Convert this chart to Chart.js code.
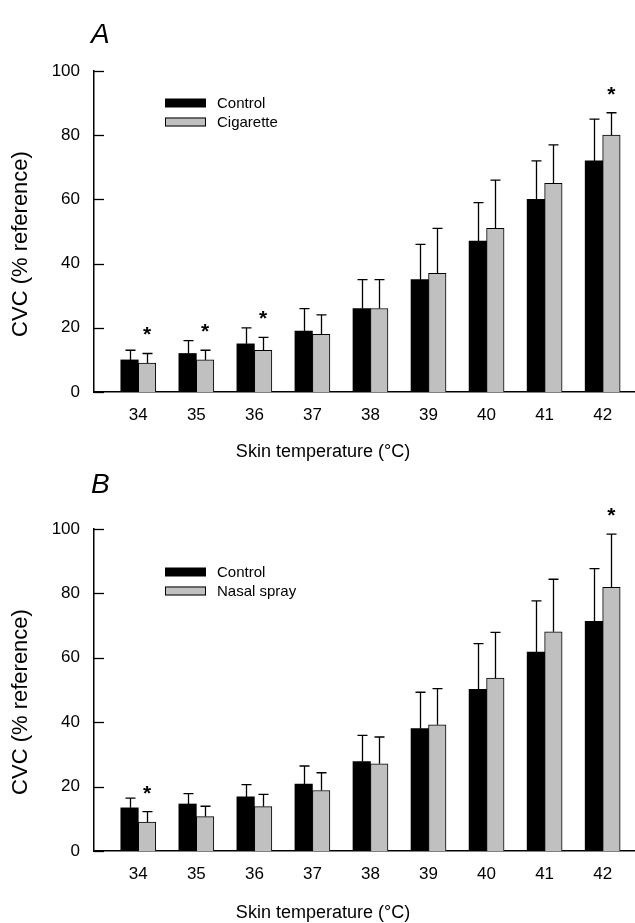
<!DOCTYPE html>
<html>
<head>
<meta charset="utf-8">
<script src="https://cdn.jsdelivr.net/npm/chart.js@4.4.0/dist/chart.umd.min.js"></script>
<style>
  html, body { margin: 0; padding: 0; background: #fff; }
  #wrap { position: relative; width: 635px; height: 923px; }
  canvas { position: absolute; left: 0; }
  #chartA { top: 0; }
  #chartB { top: 464px; }
</style>
</head>
<body>
<div id="wrap">
  <canvas id="chartA" width="635" height="464"></canvas>
  <canvas id="chartB" width="635" height="459"></canvas>
</div>
<script>
/* CVC vs skin temperature — two panels (A: cigarette, B: nasal spray) */

const temps = [34, 35, 36, 37, 38, 39, 40, 41, 42];
const yTicks = [0, 20, 40, 60, 80, 100];

// panel A
const controlA = [10, 12, 15, 19, 26, 35, 47, 60, 72];
const controlA_sd = [3, 4, 5, 7, 9, 11, 12, 12, 13];
const cigarette = [9, 10, 13, 18, 26, 37, 51, 65, 80];
const cigarette_sd = [3, 3, 4, 6, 9, 14, 15, 12, 7];
const sigA = [34, 35, 36, 42];

// panel B
const controlB = [13.4, 14.6, 16.8, 20.8, 27.8, 38.0, 50.2, 61.8, 71.3];
const controlB_sd = [3.0, 3.2, 3.8, 5.6, 8.1, 11.3, 14.2, 15.9, 16.4];
const nasalSpray = [9.0, 10.7, 13.8, 18.8, 27.1, 39.2, 53.7, 68.1, 81.9];
const nasalSpray_sd = [3.2, 3.2, 3.8, 5.5, 8.3, 11.2, 14.2, 16.3, 16.5];
const sigB = [34, 42];

const FONT = "'Liberation Sans', Arial, sans-serif";
Chart.defaults.font.family = FONT;
Chart.defaults.color = '#000';

// error bars, asterisks, legend, panel letter, axis titles, inward ticks
const figExtras = {
  id: 'figExtras',
  afterDatasetsDraw(chart, args, opts) {
    const ctx = chart.ctx;
    const yS = chart.scales.y;
    const area = chart.chartArea;
    ctx.save();
    ctx.strokeStyle = '#000';
    ctx.fillStyle = '#000';

    // inward y ticks
    ctx.lineWidth = 1.3;
    yTicks.forEach(v => {
      const py = Math.round(yS.getPixelForValue(v)) + 0.5;
      ctx.beginPath();
      ctx.moveTo(area.left, py);
      ctx.lineTo(area.left + 10, py);
      ctx.stroke();
    });

    // error bars (upper only) + significance marks
    chart.data.datasets.forEach((ds, i) => {
      const meta = chart.getDatasetMeta(i);
      meta.data.forEach((bar, j) => {
        const top = yS.getPixelForValue(ds.data[j].y + ds.sd[j]);
        const x = Math.round(bar.x) + 0.5;
        ctx.lineWidth = 1.3;
        ctx.beginPath();
        ctx.moveTo(x, bar.y);
        ctx.lineTo(x, top);
        ctx.moveTo(x - 5, top);
        ctx.lineTo(x + 5, top);
        ctx.stroke();
        if (ds.sig && ds.sig.includes(ds.data[j].x)) {
          ctx.font = 'bold 21px ' + FONT;
          ctx.textAlign = 'center';
          ctx.textBaseline = 'alphabetic';
          ctx.fillText('*', bar.x, top - 12);
        }
      });
    });

    // legend
    ctx.font = '15px ' + FONT;
    ctx.textAlign = 'left';
    ctx.textBaseline = 'middle';
    chart.data.datasets.forEach((ds, i) => {
      const cy = opts.legendY + i * 19;
      ctx.fillStyle = ds.backgroundColor;
      ctx.fillRect(opts.legendX, cy - 4.5, 41, 9);
      if (ds.borderWidth) {
        ctx.lineWidth = 1;
        ctx.strokeRect(opts.legendX + 0.5, cy - 4, 40, 8);
      }
      ctx.fillStyle = '#000';
      ctx.fillText(ds.label, opts.legendX + 52, cy + 1);
    });

    // panel letter
    ctx.font = 'italic 28px ' + FONT;
    ctx.textBaseline = 'alphabetic';
    ctx.fillText(opts.letter, 91, opts.letterY);

    // x title
    ctx.font = '18px ' + FONT;
    ctx.textAlign = 'center';
    ctx.fillText('Skin temperature (°C)', 323, opts.xTitleY);

    // y title
    ctx.translate(21, opts.yTitleY);
    ctx.rotate(-Math.PI / 2);
    ctx.font = '22px ' + FONT;
    ctx.textBaseline = 'middle';
    ctx.fillText('CVC (% reference)', 0, 0);
    ctx.restore();
  }
};

function makePanel(id, series, extras, topPad) {
  const datasets = series.map(s => ({
    label: s.label,
    data: temps.map((t, i) => ({ x: t, y: s.values[i] })),
    sd: s.sd,
    sig: s.sig,
    backgroundColor: s.color,
    borderColor: '#000',
    borderWidth: s.border,
    borderSkipped: 'bottom',
    barThickness: 17.5
  }));
  return new Chart(document.getElementById(id), {
    type: 'bar',
    data: { datasets },
    options: {
      responsive: false,
      animation: false,
      devicePixelRatio: 1,
      layout: { padding: { top: topPad, left: 0, right: 0, bottom: 0 } },
      plugins: { legend: { display: false }, tooltip: { enabled: false }, figExtras: extras },
      scales: {
        x: {
          type: 'linear', min: 33.237, max: 42.557, offset: false,
          afterBuildTicks: s => { s.ticks = temps.map(v => ({ value: v })); },
          afterFit: s => { s.height = 72; },
          grid: { display: false, drawTicks: false, offset: false },
          border: { display: true, color: '#000', width: 1.5 },
          ticks: { font: { size: 17 }, padding: 13, color: '#000', maxRotation: 0, autoSkip: false }
        },
        y: {
          min: 0, max: 100,
          afterBuildTicks: s => { s.ticks = yTicks.map(v => ({ value: v })); },
          afterFit: s => { s.width = 94; },
          grid: { display: false, drawTicks: false },
          border: { display: true, color: '#000', width: 1.5 },
          ticks: { font: { size: 17 }, padding: 14, color: '#000' }
        }
      }
    },
    plugins: [figExtras]
  });
}

makePanel('chartA', [
  { label: 'Control', values: controlA, sd: controlA_sd, color: '#000000', border: 0 },
  { label: 'Cigarette', values: cigarette, sd: cigarette_sd, sig: sigA, color: '#c0c0c0', border: 1 }
], { letter: 'A', letterY: 43, legendX: 165, legendY: 103, xTitleY: 457, yTitleY: 244 }, 71);

makePanel('chartB', [
  { label: 'Control', values: controlB, sd: controlB_sd, color: '#000000', border: 0 },
  { label: 'Nasal spray', values: nasalSpray, sd: nasalSpray_sd, sig: sigB, color: '#c0c0c0', border: 1 }
], { letter: 'B', letterY: 29, legendX: 165, legendY: 108, xTitleY: 454, yTitleY: 238 }, 65);
</script>
</body>
</html>
